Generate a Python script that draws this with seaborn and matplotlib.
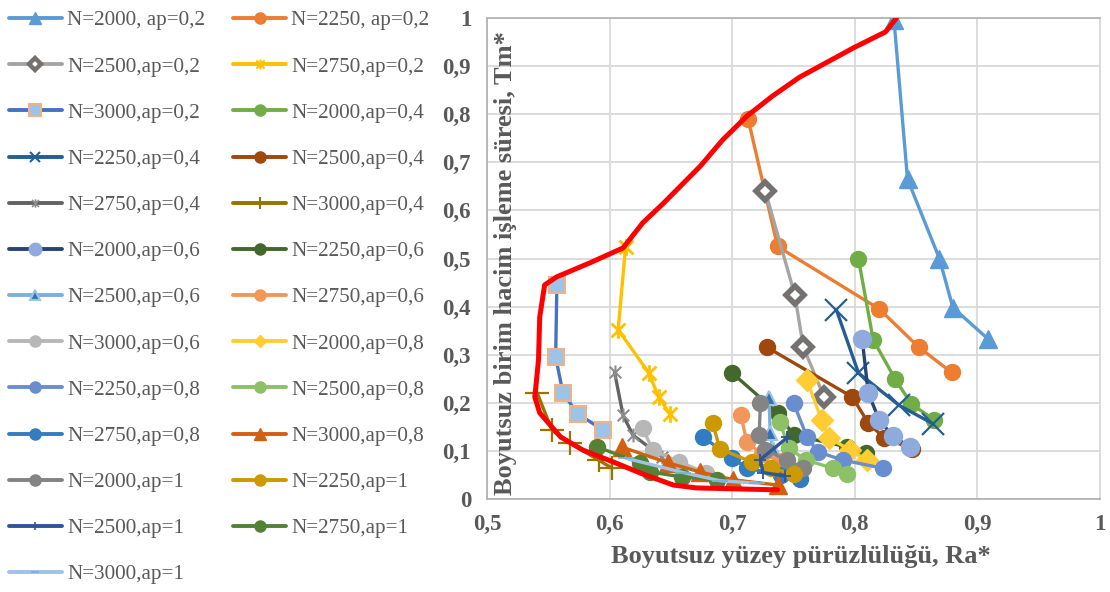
import matplotlib
matplotlib.use("Agg")
import matplotlib.pyplot as plt
from matplotlib.lines import Line2D
from matplotlib.path import Path
from matplotlib.ticker import FixedLocator
import seaborn as sns

sns.set_theme(style="white")
plt.rcParams["font.family"] = ["Liberation Serif", "DejaVu Serif"]

TEXT = "#595959"

# Dimensionless surface roughness (Ra*) and machining time per unit volume (Tm*)
ra_2000_02 = [0.832, 0.843, 0.869, 0.880, 0.909]
tm_2000_02 = [0.995, 0.665, 0.500, 0.398, 0.332]
ra_2250_02 = [0.713, 0.737, 0.820, 0.852, 0.879]
tm_2250_02 = [0.790, 0.525, 0.395, 0.316, 0.263]
ra_2500_02 = [0.727, 0.751, 0.758, 0.775]
tm_2500_02 = [0.640, 0.425, 0.316, 0.212]
ra_2750_02 = [0.613, 0.607, 0.632, 0.640, 0.649]
tm_2750_02 = [0.523, 0.352, 0.262, 0.212, 0.177]
ra_3000_02 = [0.557, 0.556, 0.562, 0.574, 0.595]
tm_3000_02 = [0.445, 0.295, 0.220, 0.177, 0.143]

ra_2000_04 = [0.803, 0.815, 0.833, 0.846, 0.865]
tm_2000_04 = [0.499, 0.331, 0.249, 0.198, 0.164]
ra_2250_04 = [0.785, 0.803, 0.836, 0.864]
tm_2250_04 = [0.393, 0.262, 0.195, 0.156]
ra_2500_04 = [0.728, 0.798, 0.811, 0.824, 0.847]
tm_2500_04 = [0.316, 0.212, 0.158, 0.127, 0.104]
ra_2750_04 = [0.604, 0.611, 0.619, 0.643]
tm_2750_04 = [0.264, 0.174, 0.133, 0.087]
ra_3000_04 = [0.541, 0.553, 0.568, 0.591, 0.602]
tm_3000_04 = [0.220, 0.143, 0.116, 0.081, 0.064]

ra_2000_06 = [0.806, 0.811, 0.820, 0.831, 0.845]
tm_2000_06 = [0.333, 0.220, 0.164, 0.131, 0.108]
ra_2250_06 = [0.700, 0.737, 0.750, 0.794, 0.809]
tm_2250_06 = [0.262, 0.179, 0.133, 0.108, 0.095]
ra_2500_06 = [0.730, 0.731, 0.733]
tm_2500_06 = [0.210, 0.137, 0.103]
ra_2750_06 = [0.707, 0.712, 0.724, 0.740]
tm_2750_06 = [0.175, 0.118, 0.094, 0.078]
ra_3000_06 = [0.627, 0.635, 0.657, 0.679]
tm_3000_06 = [0.148, 0.102, 0.077, 0.054]

ra_2000_08 = [0.761, 0.773, 0.779, 0.796, 0.810]
tm_2000_08 = [0.247, 0.164, 0.127, 0.102, 0.081]
ra_2250_08 = [0.750, 0.761, 0.770, 0.790, 0.823]
tm_2250_08 = [0.200, 0.129, 0.098, 0.081, 0.064]
ra_2500_08 = [0.739, 0.746, 0.760, 0.782, 0.794]
tm_2500_08 = [0.160, 0.106, 0.081, 0.064, 0.052]
ra_2750_08 = [0.676, 0.700, 0.712, 0.740, 0.755]
tm_2750_08 = [0.129, 0.085, 0.064, 0.050, 0.042]
ra_3000_08 = [0.610, 0.648, 0.674, 0.701, 0.737]
tm_3000_08 = [0.108, 0.075, 0.056, 0.040, 0.029]

ra_2000_10 = [0.723, 0.722, 0.727, 0.745, 0.758]
tm_2000_10 = [0.200, 0.133, 0.102, 0.081, 0.064]
ra_2250_10 = [0.684, 0.690, 0.716, 0.732, 0.750]
tm_2250_10 = [0.158, 0.104, 0.077, 0.064, 0.052]
ra_2500_10 = [0.745, 0.723, 0.725, 0.743]
tm_2500_10 = [0.128, 0.082, 0.055, 0.048]
ra_2750_10 = [0.590, 0.625, 0.633, 0.659, 0.688]
tm_2750_10 = [0.108, 0.075, 0.056, 0.046, 0.040]
ra_3000_10 = [0.613, 0.660, 0.690, 0.720]
tm_3000_10 = [0.085, 0.055, 0.038, 0.033]

# Pareto front
pareto_ra = [0.834, 0.825, 0.799, 0.755, 0.733, 0.712, 0.692, 0.674, 0.644, 0.627,
             0.611, 0.584, 0.557, 0.547, 0.543, 0.542, 0.539, 0.543, 0.560, 0.578,
             0.603, 0.625, 0.652, 0.671, 0.737]
pareto_tm = [1.000, 0.971, 0.938, 0.877, 0.838, 0.796, 0.746, 0.692, 0.615, 0.574,
             0.522, 0.491, 0.462, 0.445, 0.378, 0.289, 0.212, 0.179, 0.129, 0.102,
             0.077, 0.054, 0.029, 0.023, 0.019]

labels = [
    "N=2000, ap=0,2", "N=2250, ap=0,2", "N=2500,ap=0,2", "N=2750,ap=0,2", "N=3000,ap=0,2",
    "N=2000,ap=0,4", "N=2250,ap=0,4", "N=2500,ap=0,4", "N=2750,ap=0,4", "N=3000,ap=0,4",
    "N=2000,ap=0,6", "N=2250,ap=0,6", "N=2500,ap=0,6", "N=2750,ap=0,6", "N=3000,ap=0,6",
    "N=2000,ap=0,8", "N=2250,ap=0,8", "N=2500,ap=0,8", "N=2750,ap=0,8", "N=3000,ap=0,8",
    "N=2000,ap=1", "N=2250,ap=1", "N=2500,ap=1", "N=2750,ap=1", "N=3000,ap=1",
]
ra_series = [ra_2000_02, ra_2250_02, ra_2500_02, ra_2750_02, ra_3000_02,
             ra_2000_04, ra_2250_04, ra_2500_04, ra_2750_04, ra_3000_04,
             ra_2000_06, ra_2250_06, ra_2500_06, ra_2750_06, ra_3000_06,
             ra_2000_08, ra_2250_08, ra_2500_08, ra_2750_08, ra_3000_08,
             ra_2000_10, ra_2250_10, ra_2500_10, ra_2750_10, ra_3000_10]
tm_series = [tm_2000_02, tm_2250_02, tm_2500_02, tm_2750_02, tm_3000_02,
             tm_2000_04, tm_2250_04, tm_2500_04, tm_2750_04, tm_3000_04,
             tm_2000_06, tm_2250_06, tm_2500_06, tm_2750_06, tm_3000_06,
             tm_2000_08, tm_2250_08, tm_2500_08, tm_2750_08, tm_3000_08,
             tm_2000_10, tm_2250_10, tm_2500_10, tm_2750_10, tm_3000_10]

# asterisk-like marker: an X crossed by a vertical bar
STAR = Path([(-1, -1), (1, 1), (-1, 1), (1, -1), (0, -1.2), (0, 1.2)],
            [Path.MOVETO, Path.LINETO, Path.MOVETO, Path.LINETO, Path.MOVETO, Path.LINETO])

# (line colour, marker, face, edge, size, edge width, legend size, legend edge width)
styles = [
    ("#5B9BD5", "^", "#5B9BD5", "#5B9BD5", 13, 1, 8, 1),
    ("#ED7D31", "o", "#ED7D31", "#ED7D31", 11.5, 1, 8, 1),
    ("#A5A5A5", "D", "white", "#767171", 9.5, 4.0, 6, 3.2),
    ("#FFC000", STAR, "none", "#FFC000", 12, 2, 7, 1.5),
    ("#4472C4", "s", "#9DC3E6", "#F4B183", 11, 1.5, 8, 1.5),
    ("#70AD47", "o", "#70AD47", "#70AD47", 11.5, 1, 8, 1),
    ("#255E91", "x", "none", "#255E91", 16, 1.6, 7, 1.5),
    ("#9E480E", "o", "#9E480E", "#9E480E", 11.5, 1, 8, 1),
    ("#636363", STAR, "none", "#8C8C8C", 10, 1.5, 6, 1.2),
    ("#997300", "+", "none", "#997300", 17, 1.6, 9, 1.5),
    ("#264478", "o", "#8FAADC", "#8FAADC", 13, 1, 9, 1),
    ("#43682B", "o", "#43682B", "#43682B", 11.5, 1, 8, 1),
    ("#7CAFDD", "^", "#2E75B6", "#9DC3E6", 10, 1.5, 7, 1.5),
    ("#F1975A", "o", "#F1975A", "#F1975A", 11.5, 1, 8, 1),
    ("#B7B7B7", "o", "#B7B7B7", "#B7B7B7", 11.5, 1, 8, 1),
    ("#FFCD33", "D", "#FFCD33", "#FFCD33", 11, 1, 6, 1),
    ("#698ED0", "o", "#698ED0", "#698ED0", 11.5, 1, 8, 1),
    ("#8CC168", "o", "#8CC168", "#8CC168", 11.5, 1, 8, 1),
    ("#327DC2", "o", "#327DC2", "#327DC2", 11.5, 1, 8, 1),
    ("#D26012", "^", "#D26012", "#D26012", 13, 1, 8, 1),
    ("#848484", "o", "#848484", "#848484", 11.5, 1, 8, 1),
    ("#CC9A00", "o", "#CC9A00", "#CC9A00", 11.5, 1, 8, 1),
    ("#2F5597", "+", "none", "#2F5597", 8, 1.3, 6, 1.2),
    ("#548235", "o", "#548235", "#548235", 11.5, 1, 8, 1),
    ("#9DC3E6", "_", "none", "#7CAFDD", 11, 1.3, 6, 1.2),
]

fig = plt.figure(figsize=(11.10, 5.92), dpi=100)
ax = fig.add_axes([487 / 1110, 1 - 499 / 592, 613 / 1110, 481 / 592])

handles = []
for ra, tm, lab, st in zip(ra_series, tm_series, labels, styles):
    color, mk, mfc, mec, ms, mew, lms, lmew = st
    sns.lineplot(x=ra, y=tm, ax=ax, sort=False, estimator=None, color=color,
                 linewidth=2.4, marker=mk, markersize=ms, markerfacecolor=mfc,
                 markeredgecolor=mec, markeredgewidth=mew, legend=False, zorder=3)
    handles.append(Line2D([0], [0], color=color, linewidth=2.8, marker=mk,
                          markersize=lms, markerfacecolor=mfc, markeredgecolor=mec,
                          markeredgewidth=lmew))

sns.lineplot(x=pareto_ra, y=pareto_tm, ax=ax, sort=False, estimator=None,
             color="#FF0000", linewidth=3.6, legend=False, zorder=5)

ax.set_xlim(0.5, 1.0)
ax.set_ylim(0.0, 1.0)
xt = [0.5, 0.6, 0.7, 0.8, 0.9, 1.0]
yt = [0.0, 0.1, 0.2, 0.3, 0.4, 0.5, 0.6, 0.7, 0.8, 0.9, 1.0]
ax.xaxis.set_major_locator(FixedLocator(xt))
ax.yaxis.set_major_locator(FixedLocator(yt))
fmt = lambda v: "0" if v == 0 else ("1" if v == 1 else f"{v:.1f}".replace(".", ","))
ax.set_xticklabels([fmt(v) for v in xt])
ax.set_yticklabels([fmt(v) for v in yt])
ax.tick_params(axis="both", length=0, labelsize=16.5, labelcolor=TEXT)
ax.tick_params(axis="x", pad=11)
ax.tick_params(axis="y", pad=11.5)
for t in ax.get_xticklabels() + ax.get_yticklabels():
    t.set_fontweight("bold")

ax.grid(True, color="#D9D9D9", linewidth=1.3)
ax.set_axisbelow(True)
for side in ["left", "bottom", "top"]:
    ax.spines[side].set_color("#B4B4B4")
    ax.spines[side].set_linewidth(1.3)
ax.spines["right"].set_color("#D9D9D9")
ax.spines["right"].set_linewidth(1.3)

ax.set_xlabel("Boyutsuz yüzey pürüzlülüğü, Ra*", fontsize=19, fontweight="bold",
              color=TEXT)
ax.xaxis.set_label_coords(0.512, -0.095)
ax.set_ylabel("Boyutsuz birim hacim işleme süresi, Tm*", fontsize=19,
              fontweight="bold", color=TEXT, va="center")
ax.yaxis.set_label_coords(0.03, 0.49)

# legend filled row by row in two columns
order = list(range(0, 25, 2)) + list(range(1, 25, 2))
fig.legend([handles[i] for i in order], [labels[i] for i in order],
           loc="upper left", bbox_to_anchor=(0.008, 0.982), ncol=2, frameon=False,
           fontsize=15.2, labelcolor=TEXT, handlelength=2.5, handletextpad=0.25,
           columnspacing=1.35, labelspacing=1.25, borderaxespad=0.0, borderpad=0.0)

fig.savefig("out.png", dpi=100)
